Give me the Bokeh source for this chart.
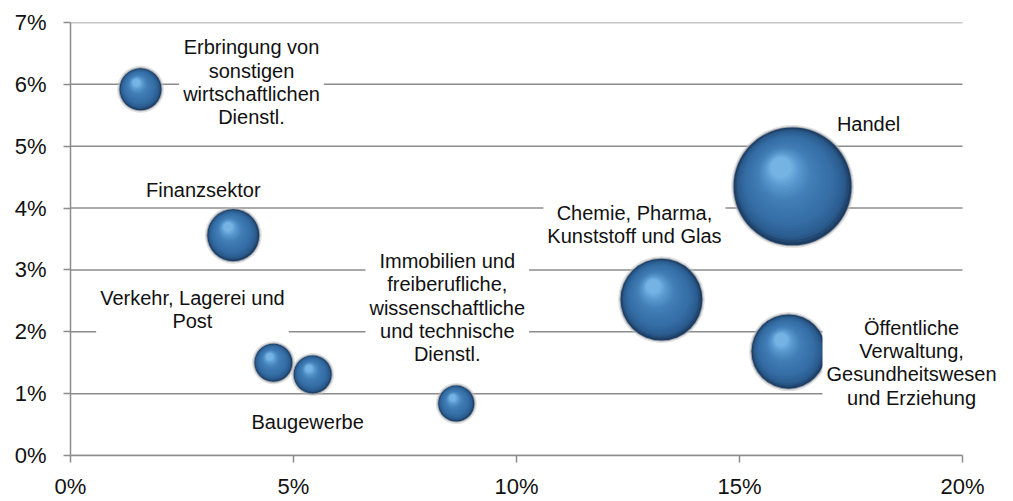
import numpy as np
from bokeh.plotting import figure
from bokeh.models import ColumnDataSource, Label, FixedTicker, PrintfTickFormatter, Range1d
from bokeh.embed import file_html
from bokeh.resources import INLINE

# ---------------- data ----------------
sector_labels = [
    "Erbringung von\nsonstigen\nwirtschaftlichen\nDienstl.",
    "Finanzsektor",
    "Verkehr, Lagerei und\nPost",
    "Baugewerbe",
    "Immobilien und\nfreiberufliche,\nwissenschaftliche\nund technische\nDienstl.",
    "Chemie, Pharma,\nKunststoff und Glas",
    "Handel",
    "Öffentliche\nVerwaltung,\nGesundheitswesen\nund Erziehung",
]
x_share = [1.57, 3.65, 4.55, 5.43, 8.65, 13.25, 16.19, 16.1]   # %
y_share = [5.92, 3.56, 1.50, 1.31, 0.84, 2.52, 4.35, 1.68]     # %
size_value = [17.6, 27.0, 14.4, 14.4, 13.0, 67.0, 139.0, 55.0]  # bubble weight
x_ticks = [0, 5, 10, 15, 20]
y_ticks = [0, 1, 2, 3, 4, 5, 6, 7]

# ---------------- layout / style ----------------
label_dx = [111, -30, -81, -5, -9, -27, 76, 123]   # px offsets of labels
label_dy = [7, 45, 53, -48, 96, 75, 62, -11]

W, H = 1013, 501
BL, BT, BB, BR = 70, 22, 45, 4
PLOT_W = 892                       # pixel width of the 0..20 % span
XB = (0, 20)
YR = (0, 7)
px_x = PLOT_W / (XB[1] - XB[0])
x_max = XB[1] + (W - BL - BR - PLOT_W) / px_x
px_y = (H - BT - BB) / (YR[1] - YR[0])
FONT = "Liberation Sans"
GRID = "#8c8c8c"

diam = 10.0 * np.sqrt(np.array(size_value))
xs = np.array(x_share, dtype=float)
ys = np.array(y_share, dtype=float)

p = figure(width=W, height=H, x_range=Range1d(XB[0], x_max), y_range=Range1d(*YR),
           output_backend="svg", toolbar_location=None,
           min_border_left=BL, min_border_right=BR, min_border_top=BT, min_border_bottom=BB)
p.outline_line_color = None
p.background_fill_color = "white"
p.border_fill_color = "white"
p.xgrid.visible = False
p.ygrid.visible = False

# horizontal gridlines across the 0..20 % span
p.segment(x0=[XB[0]] * len(y_ticks), x1=[XB[1]] * len(y_ticks), y0=y_ticks, y1=y_ticks,
          line_color=GRID, line_width=1.5, level="underlay")

p.xaxis.ticker = FixedTicker(ticks=x_ticks)
p.yaxis.ticker = FixedTicker(ticks=y_ticks)
p.xaxis.bounds = XB
for ax in (p.xaxis[0], p.yaxis[0]):
    ax.formatter = PrintfTickFormatter(format="%d%%")
    ax.axis_line_color = GRID
    ax.axis_line_width = 1.5
    ax.major_tick_line_color = GRID
    ax.major_tick_line_width = 1.5
    ax.major_tick_out = 7
    ax.major_tick_in = 0
    ax.minor_tick_line_color = None
    ax.major_label_text_font = FONT
    ax.major_label_text_font_size = "22px"
    ax.major_label_text_color = "#111111"
p.yaxis.major_label_standoff = 17
p.xaxis.major_label_standoff = 11

# ---------------- bubbles (shaded spheres) ----------------
src_halo = ColumnDataSource(dict(x=xs, y=ys, s1=diam + 5, s2=diam + 2))
p.scatter("x", "y", size="s1", source=src_halo, fill_color="#c4c4c4", fill_alpha=0.5, line_color=None)
p.scatter("x", "y", size="s2", source=src_halo, fill_color="#7d8794", fill_alpha=0.65, line_color=None)

stops_t = [0.0, 0.1, 0.3, 0.65, 0.85, 1.0]
stops_c = [(0x1d, 0x3d, 0x63), (0x2b, 0x5c, 0x8f), (0x35, 0x6e, 0xa5),
           (0x42, 0x7e, 0xb7), (0x58, 0x98, 0xce), (0x74, 0xb3, 0xe4)]


def colour_at(t):
    for i in range(len(stops_t) - 1):
        if stops_t[i] <= t <= stops_t[i + 1]:
            f = (t - stops_t[i]) / (stops_t[i + 1] - stops_t[i])
            c = [round(a + (b - a) * f) for a, b in zip(stops_c[i], stops_c[i + 1])]
            return "#%02x%02x%02x" % tuple(c)
    return "#%02x%02x%02x" % stops_c[-1]


N = 24
for k in range(N + 1):
    t = k / N
    fsize = 1.0 - 0.82 * t
    ox = -0.10 * t * diam / px_x
    oy = 0.16 * t * diam / px_y
    src = ColumnDataSource(dict(x=xs + ox, y=ys + oy, s=diam * fsize))
    p.scatter("x", "y", size="s", source=src, fill_color=colour_at(t), line_color=None)

# ---------------- labels ----------------
for xi, yi, txt, dx, dy in zip(x_share, y_share, sector_labels, label_dx, label_dy):
    p.add_layout(Label(x=xi, y=yi, text=txt, x_offset=dx, y_offset=dy,
                       text_align="center", text_baseline="middle",
                       text_font=FONT, text_font_size="20px", text_color="#111111",
                       text_line_height=1.06,
                       background_fill_color="white", padding=4))

open("out.html", "w").write(file_html(p, INLINE))
